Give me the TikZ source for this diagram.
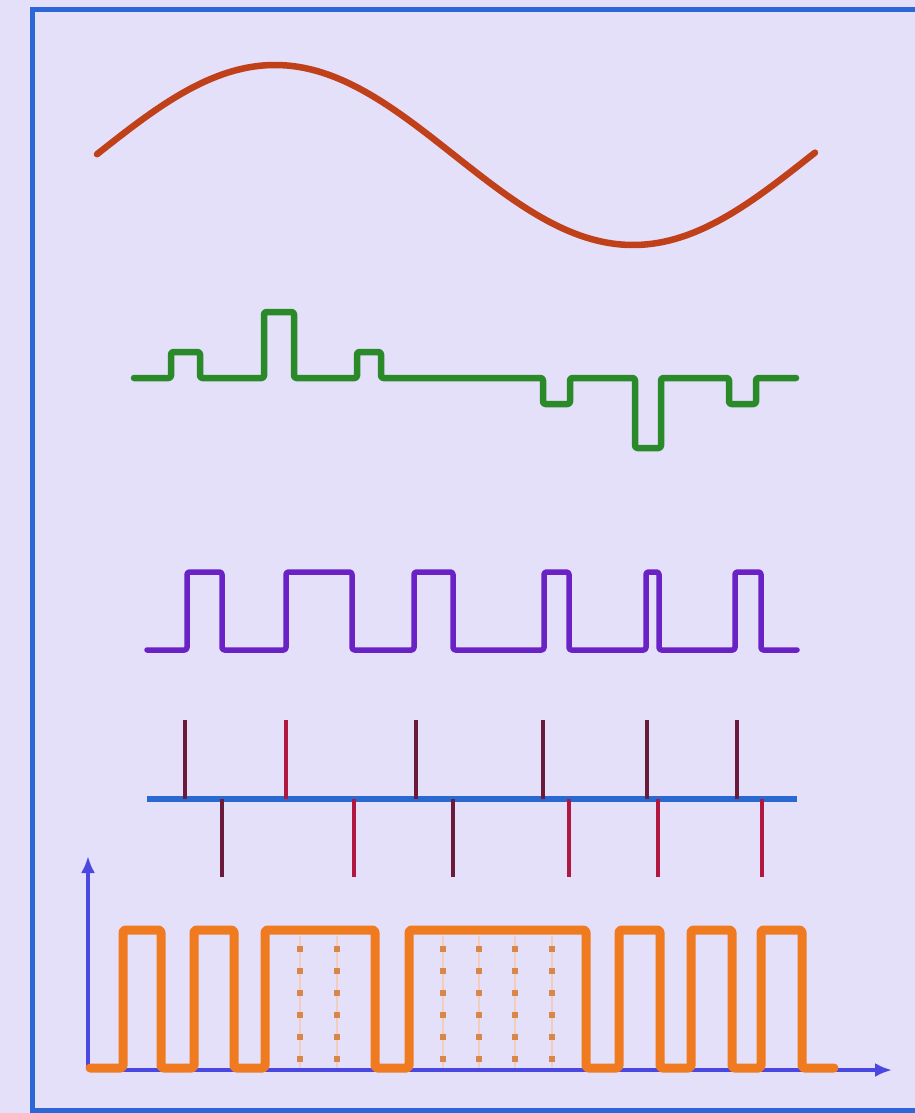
\documentclass[tikz,border=0pt]{standalone}
\usetikzlibrary{arrows.meta}
\definecolor{bg}{HTML}{E4E0FA}
\definecolor{frameblue}{HTML}{2D66D6}
\definecolor{sinered}{HTML}{C0401A}
\definecolor{pamgreen}{HTML}{2A8A2A}
\definecolor{pwmpurple}{HTML}{6A22C4}
\definecolor{spikedark}{HTML}{6A1A3A}
\definecolor{spikered}{HTML}{B01840}
\definecolor{lineblue}{HTML}{2A6AD0}
\definecolor{axisblue}{HTML}{4A48E0}
\definecolor{pulseorange}{HTML}{F07A20}
\definecolor{dotorange}{HTML}{D8874A}
\definecolor{dotpale}{HTML}{F2CDBE}
\tikzset{
  wave/.style={line width=#1, line join=round, line cap=round, rounded corners=2.5pt},
  spk/.style={line width=4pt},
  axisline/.style={line width=4pt, axisblue, -{Latex[length=17pt,width=14pt]}},
  dotline/.style={line width=6pt, dotorange, dash pattern=on 6pt off 16pt},
}
\begin{document}
\begin{tikzpicture}[x=1pt,y=-1pt]
\useasboundingbox (0,0) rectangle (915,1113);
\fill[bg] (0,0) rectangle (915,1113);
\draw[frameblue, line width=5pt] (32,10) rectangle (940,1110);
% sine
\draw[sinered, line width=6.5pt, line cap=round, domain=97:815, samples=120, smooth]
  plot ({\x},{155-90*sin((\x-96)/358*180)});
% PAM (green)
\draw[pamgreen, wave=6.5pt] (134,378) -- (171,378) -- (171,352) -- (200,352) -- (200,378)
  -- (264,378) -- (264,312) -- (294,312) -- (294,378) -- (357,378) -- (357,352)
  -- (381,352) -- (381,378) -- (543,378) -- (543,404) -- (570,404) -- (570,378)
  -- (635,378) -- (635,448) -- (661,448) -- (661,378) -- (729,378) -- (729,404)
  -- (756,404) -- (756,378) -- (796,378);
% PWM (purple)
\draw[pwmpurple, wave=5.5pt] (147,650) -- (187,650) -- (187,572) -- (222,572) -- (222,650)
  -- (286,650) -- (286,572) -- (352,572) -- (352,650) -- (414,650) -- (414,572)
  -- (453,572) -- (453,650) -- (544,650) -- (544,572) -- (569,572) -- (569,650)
  -- (646,650) -- (646,572) -- (659,572) -- (659,650) -- (735,650) -- (735,572)
  -- (761,572) -- (761,650) -- (797,650);
% spikes
\draw[lineblue, line width=5.5pt] (147,799) -- (797,799);
\foreach \x/\c in {185/spikedark,286/spikered,416/spikedark,543/spikedark,647/spikedark,737/spikedark}
  \draw[spk,\c] (\x,720) -- (\x,799);
\foreach \x/\c in {222/spikedark,354/spikered,453/spikedark,569/spikered,658/spikered,762/spikered}
  \draw[spk,\c] (\x,799) -- (\x,877);
% axes
\draw[axisline] (88,1070) -- (88,856);
\draw[axisline] (88,1070) -- (892,1070);
% dotted lines
\foreach \x in {300,337,443,479,515,552}{
  \draw[dotpale, line width=2.5pt] (\x,936) -- (\x,1068);
  \draw[dotline] (\x,946) -- (\x,1072);
}
% PCM (orange)
\draw[pulseorange, wave=9pt] (90,1068) -- (123,1068) -- (123,930) -- (161,930) -- (161,1068)
  -- (194,1068) -- (194,930) -- (234,930) -- (234,1068) -- (265,1068) -- (265,930)
  -- (375,930) -- (375,1068) -- (409,1068) -- (409,930) -- (586,930) -- (586,1068)
  -- (619,1068) -- (619,930) -- (660,930) -- (660,1068) -- (691,1068) -- (691,930)
  -- (732,930) -- (732,1068) -- (761,1068) -- (761,930) -- (802,930) -- (802,1068)
  -- (834,1068);
\end{tikzpicture}
\end{document}
